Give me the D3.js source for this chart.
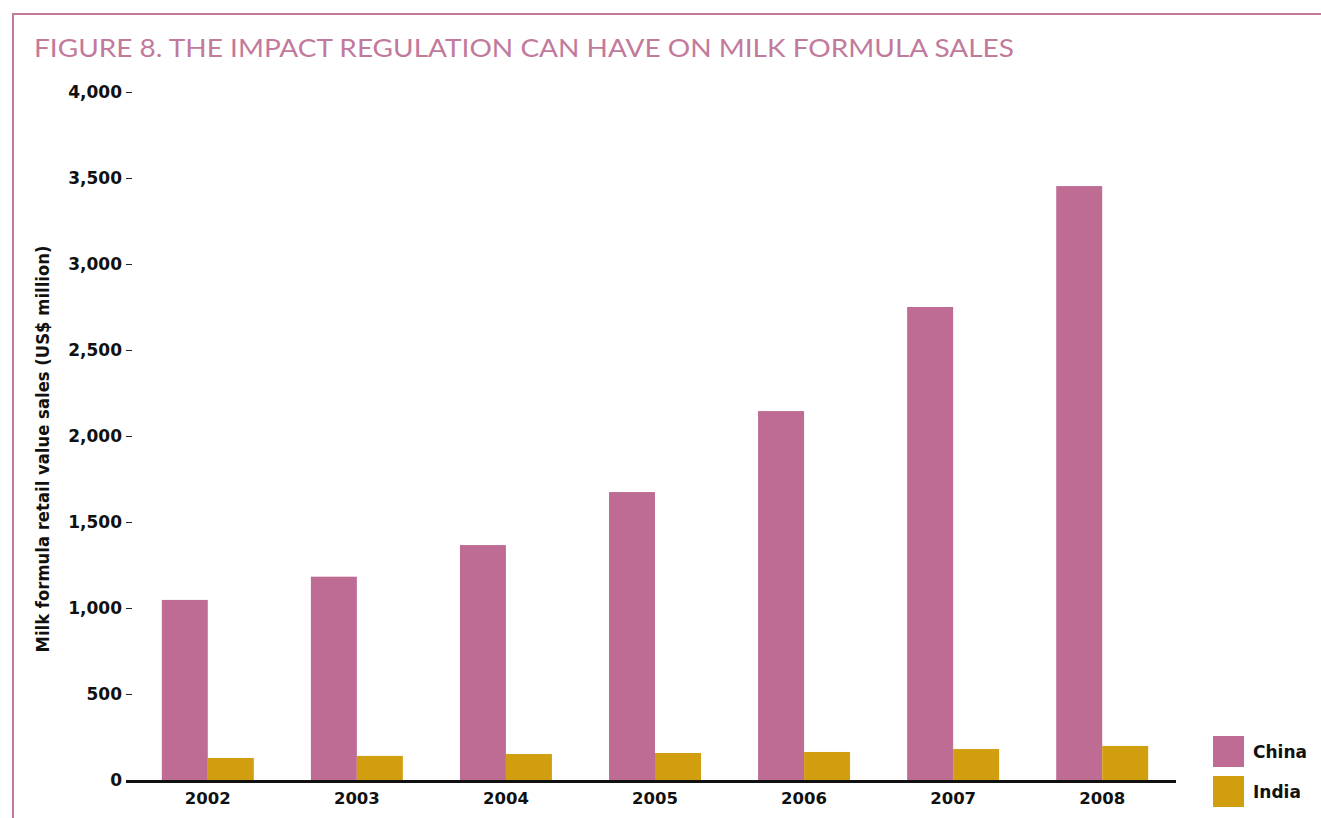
<!DOCTYPE html>
<html lang="en">
<head>
    <meta charset="UTF-8">
    <title>Figure 8 - Milk formula sales</title>
    <script src="https://d3js.org/d3.v7.min.js"></script>
    <style>
        body { margin: 0; background: #fff; font-family: Lato, 'Open Sans', sans-serif; }
        svg text { font-family: Lato, 'Open Sans', sans-serif; }
        .bold { font-family: 'DejaVu Sans', sans-serif !important; font-weight: bold; fill: #111; }
    </style>
</head>
<body>
    <div id="chart"></div>
    <script>
        // Data
        const years = ['2002', '2003', '2004', '2005', '2006', '2007', '2008'];
        const seriesNames = ['China', 'India'];
        const china = [1047, 1182, 1366, 1674, 2145, 2750, 3453];
        const india = [128, 140, 151, 157, 163, 180, 198];
        const yTicks = [0, 500, 1000, 1500, 2000, 2500, 3000, 3500, 4000];
        const colors = ['#bf6c94', '#d19e10'];

        const W = 1321, H = 818;
        const svg = d3.select('#chart').append('svg')
            .attr('width', W).attr('height', H);

        // frame
        svg.append('path')
            .attr('d', `M13,${H} V14 H${W}`)
            .attr('fill', 'none')
            .attr('stroke', '#c27a9c')
            .attr('stroke-width', 2);

        svg.append('text')
            .attr('x', 34).attr('y', 57)
            .attr('fill', '#c27a9c')
            .attr('font-size', 25)
            .attr('textLength', 980)
            .attr('lengthAdjust', 'spacingAndGlyphs')
            .text('FIGURE 8. THE IMPACT REGULATION CAN HAVE ON MILK FORMULA SALES');

        const y = d3.scaleLinear().domain([0, 4000]).range([780, 92]);
        const x = d3.scaleBand().domain(years).range([132, 1178])
            .paddingInner(0.383).paddingOuter(0.2);
        const xs = d3.scaleBand().domain(seriesNames).range([0, x.bandwidth()]);

        const rows = years.map((yr, i) => ({ year: yr, values: [china[i], india[i]] }));

        const g = svg.append('g');
        g.selectAll('g.grp')
            .data(rows).enter().append('g')
            .attr('transform', d => `translate(${x(d.year)},0)`)
            .selectAll('rect')
            .data(d => d.values.map((v, k) => ({ name: seriesNames[k], v, k })))
            .enter().append('rect')
            .attr('x', d => xs(d.name))
            .attr('width', xs.bandwidth())
            .attr('y', d => y(d.v))
            .attr('height', d => y(0) - y(d.v))
            .attr('fill', d => colors[d.k]);

        // y axis: ticks only, no domain line
        const yAxis = svg.append('g')
            .attr('transform', 'translate(132,0)')
            .call(d3.axisLeft(y).tickValues(yTicks).tickSize(6).tickPadding(4)
                .tickFormat(d3.format(',')));
        yAxis.select('.domain').remove();
        yAxis.selectAll('line').attr('stroke', '#222');
        yAxis.selectAll('text')
            .attr('class', 'bold')
            .attr('font-size', 17);

        // x axis
        svg.append('line')
            .attr('x1', 126).attr('x2', 1176)
            .attr('y1', 781.5).attr('y2', 781.5)
            .attr('stroke', '#111').attr('stroke-width', 3);
        const xAxis = svg.append('g')
            .attr('transform', 'translate(0,783)')
            .call(d3.axisBottom(x).tickSize(0).tickPadding(9));
        xAxis.select('.domain').remove();
        xAxis.selectAll('text')
            .attr('class', 'bold')
            .attr('font-size', 16.5);

        // y axis title
        svg.append('text')
            .attr('class', 'bold')
            .attr('transform', 'translate(49,449) rotate(-90)')
            .attr('text-anchor', 'middle')
            .attr('font-size', 17)
            .attr('textLength', 407)
            .attr('lengthAdjust', 'spacingAndGlyphs')
            .text('Milk formula retail value sales (US$ million)');

        // legend
        const leg = svg.append('g').attr('transform', 'translate(1213,736)');
        const li = leg.selectAll('g').data(seriesNames).enter().append('g')
            .attr('transform', (d, i) => `translate(0,${i * 40})`);
        li.append('rect').attr('width', 31).attr('height', 31)
            .attr('fill', (d, i) => colors[i]);
        li.append('text').attr('class', 'bold')
            .attr('x', 40).attr('y', 22)
            .attr('font-size', 17)
            .text(d => d);
    </script>
</body>
</html>
